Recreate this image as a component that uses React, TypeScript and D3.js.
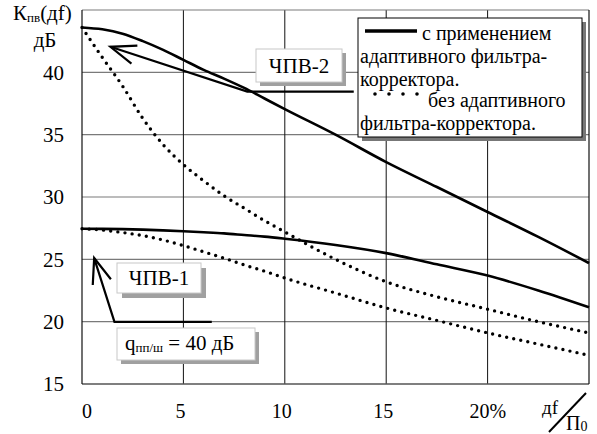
import React from 'react';
import * as d3 from 'd3';

// relative detuning, % of П0
const detuning = [0, 1, 2, 3, 4, 5, 6, 7, 8, 9, 10, 12.5, 15, 17.5, 20, 22.5, 25];

// ЧПВ-2
const chpv2Filter = [43.6, 43.45, 43.1, 42.5, 41.8, 41.0, 40.2, 39.5, 38.75, 37.9, 37.05, 35.0, 32.8, 30.8, 28.8, 26.8, 24.7];
const chpv2NoFilter = [43.6, 41.2, 38.9, 36.3, 34.2, 32.6, 31.3, 30.1, 29.1, 28.1, 27.2, 25.0, 23.2, 22.0, 21.0, 20.0, 19.1];

// ЧПВ-1
const chpv1Filter = [27.45, 27.44, 27.42, 27.38, 27.32, 27.25, 27.17, 27.08, 26.95, 26.82, 26.65, 26.15, 25.5, 24.6, 23.7, 22.5, 21.15];
const chpv1NoFilter = [27.45, 27.35, 27.15, 26.9, 26.55, 26.1, 25.6, 25.1, 24.55, 24.05, 23.5, 22.3, 21.1, 20.1, 19.1, 18.2, 17.3];

const xTicks = [0, 5, 10, 15, 20];
const xGrid = [5, 10, 15, 20];
const yTicks = [15, 20, 25, 30, 35, 40];
const yGrid = [20, 25, 30, 35, 40];

const legendRows = ['с применением', 'адаптивного фильтра-', 'корректора.', 'без адаптивного', 'фильтра-корректора.'];

const W = 597;
const H = 434;
const FONT = 'Liberation Serif, Tinos, Times New Roman, Times, DejaVu Serif, Noto Serif, serif';

const x = d3.scaleLinear().domain([0, 25]).range([82, 589]);
const y = d3.scaleLinear().domain([15, 45]).range([384, 10]);

const line = d3.line<[number, number]>()
  .x(d => x(d[0]))
  .y(d => y(d[1]))
  .curve(d3.curveMonotoneX);

const toPts = (vals: number[]) => detuning.map((d, i) => [d, vals[i]] as [number, number]);

// open arrowhead: two barbs from tip back along the shaft
const arrowHead = (tx: number, ty: number, fx: number, fy: number, len = 27, ang = 0.36) => {
  const a = Math.atan2(fy - ty, fx - tx);
  const p1 = [tx + len * Math.cos(a + ang), ty + len * Math.sin(a + ang)];
  const p2 = [tx + len * Math.cos(a - ang), ty + len * Math.sin(a - ang)];
  return `M${p1[0]},${p1[1]}L${tx},${ty}L${p2[0]},${p2[1]}`;
};

const Box = ({ x0, y0, w, h, children, border = '#c8c8c8', shadow = '#a0a0a0', off = 5 }: any) => (
  <g>
    <rect x={x0 + off} y={y0 + off} width={w} height={h} fill={shadow} />
    <rect x={x0} y={y0} width={w} height={h} fill="#fff" stroke={border} strokeWidth={1} />
    {children}
  </g>
);

const T = (props: any) => <text fontFamily={FONT} {...props} />;

export default function App() {
  const t2 = [x(1.4), y(42.05)];
  const k2 = [x(8.15), y(38.45)];
  const t1 = [x(0.6), y(25.1)];
  const k1 = [x(1.6), y(19.98)];

  return (
    <svg width={W} height={H} style={{ position: 'absolute', left: 0, top: 0, background: '#fff' }}>
      {/* grid */}
      {yGrid.map(v => (
        <line key={'h' + v} x1={x(0)} x2={x(25)} y1={y(v)} y2={y(v)} stroke="#7a7a7a" strokeWidth={1.2} />
      ))}
      {xGrid.map(v => (
        <line key={'v' + v} x1={x(v)} x2={x(v)} y1={y(45)} y2={y(15)} stroke="#111" strokeWidth={1} />
      ))}
      <line x1={x(0)} x2={x(25)} y1={y(45)} y2={y(45)} stroke="#7a7a7a" strokeWidth={1.2} />
      <line x1={x(0)} x2={x(25)} y1={y(15)} y2={y(15)} stroke="#555" strokeWidth={1.4} />
      <line x1={x(0)} x2={x(0)} y1={y(45)} y2={y(15)} stroke="#111" strokeWidth={1.2} />
      <line x1={x(25)} x2={x(25)} y1={y(45)} y2={y(15)} stroke="#111" strokeWidth={1.2} />

      {/* curves */}
      {[chpv2Filter, chpv1Filter].map((s, i) => (
        <path key={'s' + i} d={line(toPts(s)) as string} fill="none" stroke="#000" strokeWidth={2.6} />
      ))}
      {[chpv2NoFilter, chpv1NoFilter].map((s, i) => (
        <path key={'d' + i} d={line(toPts(s)) as string} fill="none" stroke="#000" strokeWidth={3.4}
          strokeLinecap="round" strokeDasharray="0 7.2" />
      ))}

      {/* y ticks */}
      {yTicks.map(v => (
        <T key={'yt' + v} x={64} y={y(v)} dy="0.35em" textAnchor="end" fontSize={21}>{v}</T>
      ))}
      {/* x ticks */}
      {xTicks.map(v => (
        v === 20
          ? <T key={'xt' + v} x={x(v) - 18} y={418} fontSize={20}>20%</T>
          : <T key={'xt' + v} x={x(v) + (v === 0 ? 5 : -3)} y={418} textAnchor="middle" fontSize={20}>{v}</T>
      ))}

      {/* axis titles */}
      <T x={13} y={20} fontSize={21}>
        К<tspan fontSize={13} dy={2}>пв</tspan><tspan dy={-2}>(дf)</tspan>
      </T>
      <T x={45} y={47} textAnchor="middle" fontSize={21}>дБ</T>
      <T x={542} y={414} fontSize={19}>дf</T>
      <line x1={549} y1={432} x2={586} y2={393} stroke="#000" strokeWidth={2} />
      <T x={566} y={430} fontSize={20}>П<tspan fontSize={14} dy={1}>0</tspan></T>

      {/* ЧПВ-2 annotation */}
      <path d={`M${t2[0]},${t2[1]}L${k2[0]},${k2[1]}L${x(13.4)},${k2[1]}`} fill="none" stroke="#000" strokeWidth={2.2} />
      <path d={arrowHead(t2[0], t2[1], k2[0], k2[1])} fill="none" stroke="#000" strokeWidth={2.2} />
      <Box x0={256} y0={49} w={86} h={33} off={4}>
        <T x={299} y={73} textAnchor="middle" fontSize={21}>ЧПВ-2</T>
      </Box>

      {/* ЧПВ-1 annotation */}
      <path d={`M${t1[0]},${t1[1]}L${k1[0]},${k1[1]}L${x(6.4)},${k1[1]}`} fill="none" stroke="#000" strokeWidth={2.2} />
      <path d={arrowHead(t1[0], t1[1], k1[0], k1[1])} fill="none" stroke="#000" strokeWidth={2.2} />
      <Box x0={117} y0={263} w={84} h={30} off={5}>
        <T x={159} y={285} textAnchor="middle" fontSize={21}>ЧПВ-1</T>
      </Box>
      <Box x0={117} y0={328} w={138} h={32} off={4}>
        <T x={125} y={350} fontSize={21}>
          q<tspan fontSize={13} dy={2}>пп/ш</tspan><tspan dy={-2}> = 40 дБ</tspan>
        </T>
      </Box>

      {/* legend */}
      <Box x0={358} y0={18} w={224} h={119} border="#000" shadow="#777" off={4}>
        <line x1={365} x2={417} y1={31} y2={31} stroke="#000" strokeWidth={3.5} />
        <line x1={375} x2={418} y1={94} y2={94} stroke="#000" strokeWidth={3.6} strokeLinecap="round" strokeDasharray="0 14" />
        <T x={422} y={40} fontSize={20}>{legendRows[0]}</T>
        <T x={360} y={63} fontSize={20}>{legendRows[1]}</T>
        <T x={360} y={86} fontSize={20}>{legendRows[2]}</T>
        <T x={428} y={107} fontSize={20}>{legendRows[3]}</T>
        <T x={360} y={130} fontSize={20}>{legendRows[4]}</T>
      </Box>
    </svg>
  );
}
